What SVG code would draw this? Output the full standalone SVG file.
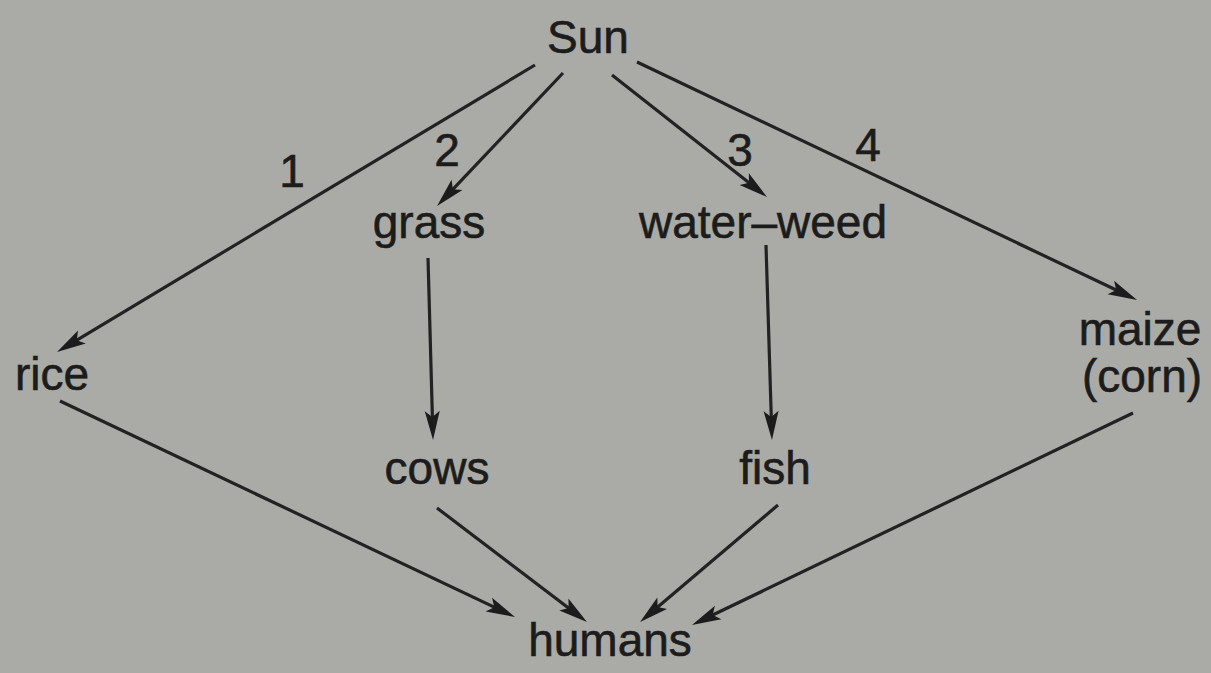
<svg xmlns="http://www.w3.org/2000/svg" width="1211" height="673" viewBox="0 0 1211 673">
<style>
.bg{fill:#aaaba6}
.t{font-family:"Liberation Sans",Arial,sans-serif;font-size:46px;fill:#1c1c1c;text-anchor:middle;stroke:#1c1c1c;stroke-width:0.6}
.c{stroke:#222;stroke-width:3.2;fill:none}
</style>
<defs>
<marker id="ah" markerUnits="userSpaceOnUse" viewBox="-20 -10 40 20" markerWidth="40" markerHeight="20" refX="0" refY="0" orient="auto">
<path d="M-17,-7.5 L12,0 L-17,7.5 L-11,0 Z" fill="#1c1c1c"/>
</marker>
</defs>
<rect class="bg" x="0" y="0" width="1211" height="673"/>
<g id="connectors">
<line class="c" x1="535" y1="65" x2="67.3" y2="345.8" marker-end="url(#ah)"/>
<line class="c" x1="563" y1="73" x2="445.3" y2="197.3" marker-end="url(#ah)"/>
<line class="c" x1="612" y1="75" x2="757.6" y2="189.6" marker-end="url(#ah)"/>
<line class="c" x1="637" y1="62" x2="1126.2" y2="294.8" marker-end="url(#ah)"/>
<line class="c" x1="428" y1="258" x2="432.7" y2="428" marker-end="url(#ah)"/>
<line class="c" x1="766" y1="245" x2="771.6" y2="428" marker-end="url(#ah)"/>
<line class="c" x1="60" y1="401" x2="504.2" y2="611.9" marker-end="url(#ah)"/>
<line class="c" x1="437" y1="508" x2="577.4" y2="614.7" marker-end="url(#ah)"/>
<line class="c" x1="778" y1="505" x2="649.2" y2="614.2" marker-end="url(#ah)"/>
<line class="c" x1="1133" y1="413" x2="702.8" y2="619.8" marker-end="url(#ah)"/>
<text class="t" x="292" y="187">1</text>
<text class="t" x="447" y="166">2</text>
<text class="t" x="740" y="166">3</text>
<text class="t" x="868" y="161">4</text>
</g>
<g id="sun"><text class="t" x="588" y="53">Sun</text></g>
<g id="grass"><text class="t" x="429" y="238">grass</text></g>
<g id="water-weed"><text class="t" x="763" y="238">water–weed</text></g>
<g id="rice"><text class="t" x="52" y="390">rice</text></g>
<g id="maize"><text class="t" x="1140" y="345">maize</text><text class="t" x="1142" y="392">(corn)</text></g>
<g id="cows"><text class="t" x="437" y="484">cows</text></g>
<g id="fish"><text class="t" x="775" y="484">fish</text></g>
<g id="humans"><text class="t" x="610" y="656">humans</text></g>
</svg>
